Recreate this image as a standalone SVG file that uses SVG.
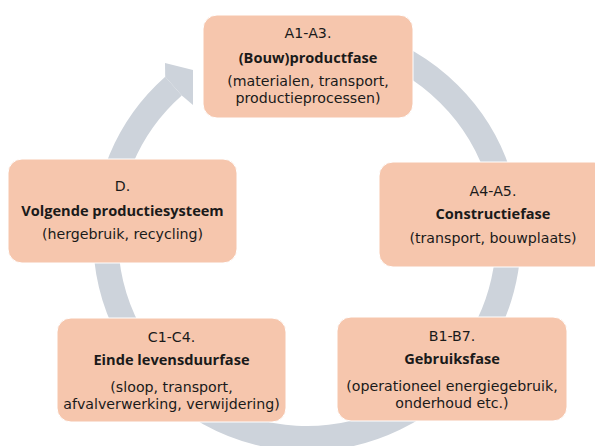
<svg xmlns="http://www.w3.org/2000/svg" width="595" height="446" viewBox="0 0 595 446">
<style>
.node{fill:#F6C6AD;stroke:#FFFFFF;stroke-width:1}
text{font-family:"DejaVu Sans","Open Sans","Liberation Sans",sans-serif;font-size:14.2px;fill:#1a1a1a;text-anchor:middle}
.b{font-family:"Open Sans","DejaVu Sans","Liberation Sans",sans-serif;font-size:14.6px;font-weight:bold}
.ring{fill:none;stroke:#CDD3DB;stroke-width:25}
.head{fill:#CDD3DB}
</style>
<rect width="595" height="446" fill="#FFFFFF"/>
<g id="connectors">
<path class="ring" d="M272.0,38.6 A201.5,201.5 0 1 1 173.5,86.1"/>
<polygon class="head" points="165.2,76.7 165,63 193,70 193,105 181.8,95.4"/>
</g>
<g id="node-a1a3">
<rect class="node" x="203" y="15" width="210" height="103" rx="14"/>
<text x="308" y="38">A1-A3.</text>
<text class="b" x="308" y="63">(Bouw)productfase</text>
<text x="308" y="86">(materialen, transport,</text>
<text x="308" y="103">productieprocessen)</text>
</g>
<g id="node-a4a5">
<rect class="node" x="379" y="162" width="229" height="105" rx="14"/>
<text x="493" y="195.7">A4-A5.</text>
<text class="b" x="493" y="219.3">Constructiefase</text>
<text x="493" y="243">(transport, bouwplaats)</text>
</g>
<g id="node-b1b7">
<rect class="node" x="337" y="317" width="230" height="104" rx="14"/>
<text x="452" y="340.7">B1-B7.</text>
<text class="b" x="452" y="364.3">Gebruiksfase</text>
<text x="452" y="391">(operationeel energiegebruik,</text>
<text x="452" y="408">onderhoud etc.)</text>
</g>
<g id="node-c1c4">
<rect class="node" x="57" y="318" width="229" height="104" rx="14"/>
<text x="171.5" y="341.7">C1-C4.</text>
<text class="b" x="171.5" y="365">Einde levensduurfase</text>
<text x="171.5" y="392">(sloop, transport,</text>
<text x="171.5" y="409">afvalverwerking, verwijdering)</text>
</g>
<g id="node-d">
<rect class="node" x="8" y="159" width="229" height="104" rx="14"/>
<text x="122.5" y="190.7">D.</text>
<text class="b" x="122.5" y="215.7">Volgende productiesysteem</text>
<text x="122.5" y="238.5">(hergebruik, recycling)</text>
</g>
</svg>
